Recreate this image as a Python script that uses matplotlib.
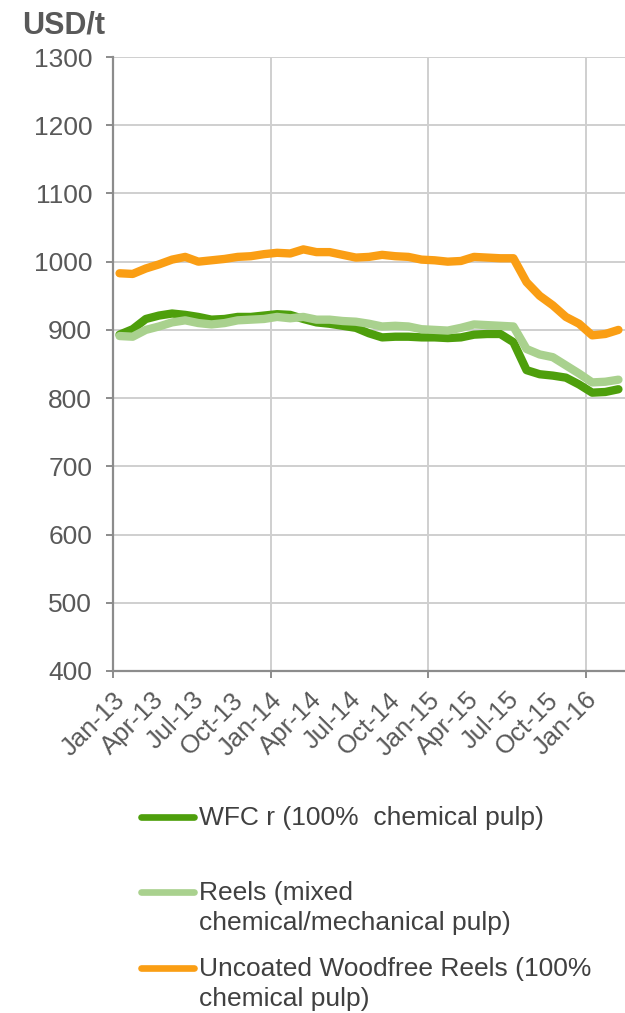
import numpy as np
import matplotlib
matplotlib.use("Agg")
import matplotlib.pyplot as plt
from matplotlib.lines import Line2D
import matplotlib.transforms as mtransforms

plt.rcParams['font.family'] = ['Liberation Sans', 'DejaVu Sans']

# monthly prices, Jan-13 .. Mar-16 (USD/t)
wfc = [893, 901, 916, 921, 924, 922, 919, 915, 916, 919,
       919, 921, 923, 922, 916, 911, 909, 906, 903, 895,
       889, 890, 890, 889, 889, 888, 889, 893, 894, 894,
       882, 841, 835, 833, 830, 820, 808, 809, 813]
reels = [891, 890, 900, 905, 911, 914, 910, 908, 910, 914,
         915, 916, 919, 917, 919, 915, 915, 913, 912, 909,
         905, 906, 905, 901, 900, 899, 903, 908, 907, 906,
         905, 872, 864, 860, 848, 836, 823, 824, 827]
uwf = [983, 982, 990, 996, 1003, 1007, 1000, 1002, 1004, 1007,
       1008, 1011, 1013, 1012, 1018, 1014, 1014, 1010, 1006, 1007,
       1010, 1008, 1007, 1003, 1002, 1000, 1001, 1007, 1006, 1005,
       1005, 970, 950, 936, 919, 909, 892, 894, 900]

tick_labels = ['Jan-13', 'Apr-13', 'Jul-13', 'Oct-13', 'Jan-14', 'Apr-14', 'Jul-14',
               'Oct-14', 'Jan-15', 'Apr-15', 'Jul-15', 'Oct-15', 'Jan-16']
series_names = ['WFC r (100%  chemical pulp)',
                'Reels (mixed\nchemical/mechanical pulp)',
                'Uncoated Woodfree Reels (100%\nchemical pulp)']
colors = ['#4E9F0C', '#A9D18E', '#FA9E14']

fig = plt.figure(figsize=(6.25, 10.13), dpi=100)
ax = fig.add_axes([113/625, 1-671/1013, 512/625, 614/1013])

x = np.arange(len(wfc)) + 0.5
for vals, c in zip([wfc, reels, uwf], colors):
    ax.plot(x, vals, color=c, lw=6, solid_capstyle='round', solid_joinstyle='round', zorder=3)

ax.set_ylim(400, 1300)
ax.set_xlim(0, 39)
ax.set_yticks(range(400, 1301, 100))
ax.set_xticks(np.arange(0, 37, 3))
ax.set_xticklabels(tick_labels, rotation=45, ha='right', va='center', rotation_mode='anchor')
ax.xaxis.remove_overlapping_locs = False
ax.set_xticks([0, 12, 24, 36], minor=True)

grey = '#8C8C8C'
ax.grid(axis='y', color='#CFCFCF', lw=1.4)
ax.grid(axis='x', which='minor', color='#CFCFCF', lw=1.4)
ax.set_axisbelow(True)
for s in ['top', 'right']:
    ax.spines[s].set_visible(False)
for s in ['left', 'bottom']:
    ax.spines[s].set_color(grey)
    ax.spines[s].set_linewidth(1.6)

ax.tick_params(axis='y', length=5, width=1.4, color=grey, pad=10, labelsize=19, labelcolor='#595959')
ax.tick_params(axis='x', which='major', length=0, pad=18, labelsize=18.5, labelcolor='#595959')
ax.tick_params(axis='x', which='minor', length=5, width=1.4, color=grey)

shift = mtransforms.ScaledTranslation(8/100, 0, fig.dpi_scale_trans)
for lab in ax.get_xticklabels():
    lab.set_transform(lab.get_transform() + shift)

fig.text(22/625, 1-33/1013, 'USD/t', fontsize=22, fontweight='bold', color='#595959')

# legend drawn by hand so each handle lines up with the first text line
leg_y = [817, 892, 968]
for name, c, yy in zip(series_names, colors, leg_y):
    yf = 1 - yy/1013
    fig.add_artist(Line2D([141/625, 194/625], [yf, yf], color=c, lw=4.8,
                          solid_capstyle='round', transform=fig.transFigure))
    fig.text(199/625, 1 - (yy - 11)/1013, name, fontsize=19, color='#404040',
             va='top', ha='left', linespacing=1.3)

fig.savefig('out.png', dpi=100)
